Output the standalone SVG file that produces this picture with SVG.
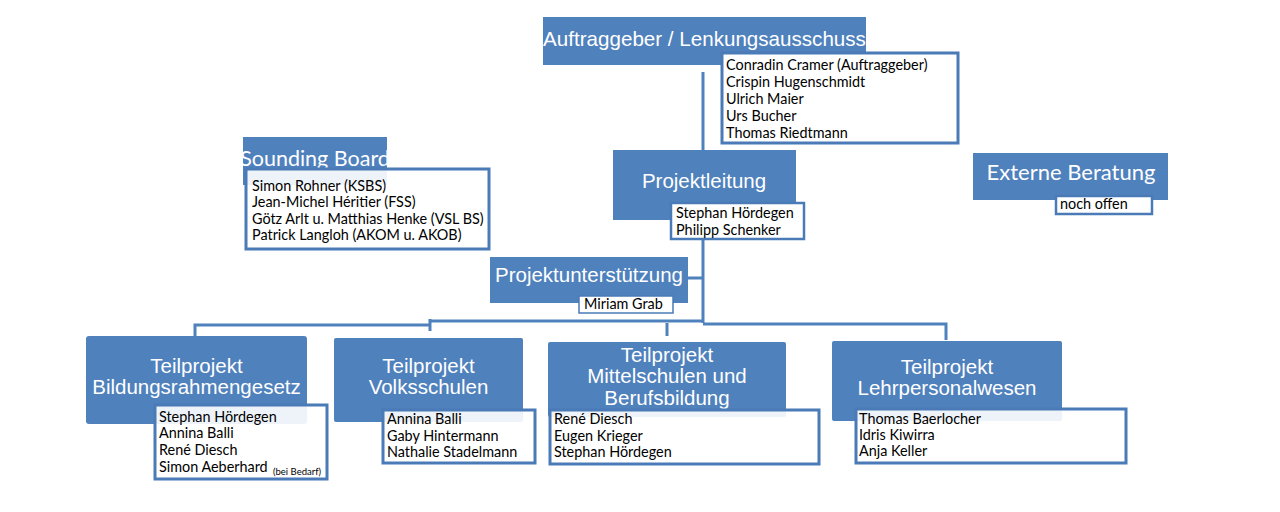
<svg xmlns="http://www.w3.org/2000/svg" width="1280" height="512" viewBox="0 0 1280 512">
<style>
.hd{fill:#4f81bd}
.mb{fill:#fff;stroke:#4a7bb7;stroke-width:3}
.mt{fill:#fff;fill-opacity:0.9;stroke:#4a7bb7;stroke-width:3}
.ht{font-family:"Liberation Sans",Arial,sans-serif;font-size:20.5px;fill:#fff;text-anchor:middle}
.hc{font-family:Lato,"Open Sans",sans-serif;fill:#fff;text-anchor:middle}
.tx{font-family:Lato,"Open Sans",sans-serif;font-size:14.4px;fill:#000}
.cn{fill:none;stroke:#4f81bd;stroke-width:3}
</style>
<rect width="1280" height="512" fill="#fff"/>
<g id="connectors" class="cn">
<path d="M703,72 V150"/>
<path d="M703,239 V323"/>
<path d="M688,278 H703"/>
<path d="M703,321 H430"/>
<path d="M430,319 V331"/>
<path d="M430,325 H195 V336"/>
<path d="M703,324 H946 V340"/>
<path d="M667,323 V336"/>
</g>
<g id="auftraggeber">
<rect class="hd" x="543" y="17" width="323" height="48"/>
<text class="ht" x="704.5" y="46" style="font-size:20.6px">Auftraggeber / Lenkungsausschuss</text>
<rect class="mb" x="722" y="53" width="236" height="90"/>
<text class="tx" x="726" y="70">Conradin Cramer (Auftraggeber)</text>
<text class="tx" x="726" y="87">Crispin Hugenschmidt</text>
<text class="tx" x="726" y="104">Ulrich Maier</text>
<text class="tx" x="726" y="121">Urs Bucher</text>
<text class="tx" x="726" y="138">Thomas Riedtmann</text>
</g>
<g id="sounding-board">
<rect class="hd" x="243" y="137" width="144" height="48"/>
<text class="hc" x="315" y="166" style="font-size:21.5px">Sounding Board</text>
<rect class="mt" x="246" y="169" width="243" height="80"/>
<text class="tx" x="252" y="191">Simon Rohner (KSBS)</text>
<text class="tx" x="252" y="207">Jean-Michel Héritier (FSS)</text>
<text class="tx" x="252" y="224">Götz Arlt u. Matthias Henke (VSL BS)</text>
<text class="tx" x="252" y="240">Patrick Langloh (AKOM u. AKOB)</text>
</g>
<g id="projektleitung">
<rect class="hd" x="613" y="150" width="183" height="70"/>
<text class="ht" x="704" y="188">Projektleitung</text>
<rect class="mb" x="671" y="203" width="133" height="36" style="stroke-width:2.5"/>
<text class="tx" x="676" y="218">Stephan Hördegen</text>
<text class="tx" x="676" y="235">Philipp Schenker</text>
</g>
<g id="externe-beratung">
<rect class="hd" x="973" y="153" width="195" height="47"/>
<text class="hc" x="1071" y="180" style="font-size:22px">Externe Beratung</text>
<rect class="mb" x="1056" y="196" width="96" height="18" style="stroke-width:2.5"/>
<text class="tx" x="1060" y="209">noch offen</text>
</g>
<g id="projektunterstuetzung">
<rect class="hd" x="490" y="257" width="198" height="46"/>
<text class="ht" x="589" y="282">Projektunterstützung</text>
<rect class="mb" x="579" y="296" width="94" height="17" style="stroke-width:1.5"/>
<text class="tx" x="584" y="309">Miriam Grab</text>
</g>
<g id="tp-bildungsrahmengesetz">
<rect class="hd" x="86" y="336" width="221" height="88" rx="3"/>
<text class="ht" x="196.5" y="373">Teilprojekt</text>
<text class="ht" x="196.5" y="394">Bildungsrahmengesetz</text>
<rect class="mt" x="155" y="405" width="172" height="74"/>
<text class="tx" x="159" y="422">Stephan Hördegen</text>
<text class="tx" x="159" y="438">Annina Balli</text>
<text class="tx" x="159" y="455">René Diesch</text>
<text class="tx" x="159" y="472">Simon Aeberhard</text>
<text class="tx" x="273" y="475" style="font-size:9.5px">(bei Bedarf)</text>
</g>
<g id="tp-volksschulen">
<rect class="hd" x="334" y="338" width="189" height="84" rx="2"/>
<text class="ht" x="428.5" y="373">Teilprojekt</text>
<text class="ht" x="428.5" y="394">Volksschulen</text>
<rect class="mt" x="383" y="410" width="152" height="53"/>
<text class="tx" x="387" y="424">Annina Balli</text>
<text class="tx" x="387" y="441">Gaby Hintermann</text>
<text class="tx" x="387" y="457">Nathalie Stadelmann</text>
</g>
<g id="tp-mittelschulen">
<rect class="hd" x="548" y="342" width="238" height="75" rx="2"/>
<text class="ht" x="667" y="362">Teilprojekt</text>
<text class="ht" x="667" y="383">Mittelschulen und</text>
<text class="ht" x="667" y="405">Berufsbildung</text>
<rect class="mt" x="550" y="410" width="269" height="54"/>
<text class="tx" x="554" y="424">René Diesch</text>
<text class="tx" x="554" y="441">Eugen Krieger</text>
<text class="tx" x="554" y="457">Stephan Hördegen</text>
</g>
<g id="tp-lehrpersonalwesen">
<rect class="hd" x="832" y="341" width="230" height="80" rx="2"/>
<text class="ht" x="947" y="374">Teilprojekt</text>
<text class="ht" x="947" y="395">Lehrpersonalwesen</text>
<rect class="mt" x="856" y="409" width="270" height="54"/>
<text class="tx" x="859" y="424">Thomas Baerlocher</text>
<text class="tx" x="859" y="440">Idris Kiwirra</text>
<text class="tx" x="859" y="456">Anja Keller</text>
</g>
</svg>
